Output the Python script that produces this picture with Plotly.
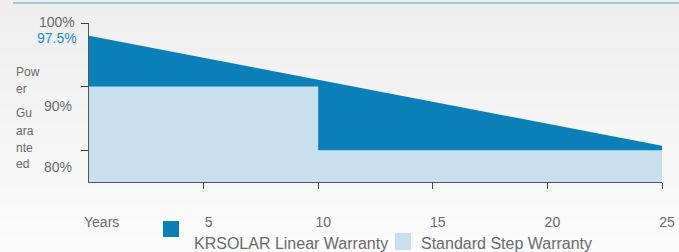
import plotly.graph_objects as go

# ---- data ----
linear_years = [0, 25]
linear_values = [98.0, 80.7]          # KRSOLAR Linear Warranty (%)
step_years = [0, 10, 10, 25]
step_values = [90, 90, 80, 80]        # Standard Step Warranty (%)
x_ticks = [5, 10, 15, 20, 25]
x_tick_labels = ["5", "10", "15", "20", "25"]
y_ticks = [80, 90, 100]
series_names = ["KRSOLAR Linear Warranty", "Standard Step Warranty"]

DARK = "#0a7fb8"
LIGHT = "#c8e0ee"
GREY = "#6a6a6a"
FONT = "Liberation Sans, Arial, sans-serif"

W, H = 679, 252
L, R, T, B = 89, 17, 23, 70
PW, PH = W - L - R, H - T - B

def fx(px):
    return (px - L) / PW

def fy(py):
    return (H - B - py) / PH

fig = go.Figure()
fig.add_trace(go.Scatter(x=linear_years, y=linear_values, mode="lines",
                         line=dict(width=0, color=DARK), fill="tozeroy",
                         fillcolor=DARK, name=series_names[0], showlegend=False,
                         hoverinfo="skip"))
fig.add_trace(go.Scatter(x=step_years, y=step_values, mode="lines",
                         line=dict(width=0, color=LIGHT), fill="tozeroy",
                         fillcolor=LIGHT, name=series_names[1], showlegend=False,
                         hoverinfo="skip"))

shapes = []
# background vertical gradient
N = 30
c0, c1 = (238, 238, 238), (251, 251, 251)
for i in range(N):
    t = i / (N - 1)
    col = tuple(round(c0[k] + (c1[k] - c0[k]) * t) for k in range(3))
    shapes.append(dict(type="rect", xref="paper", yref="paper", layer="below",
                       x0=fx(0), x1=fx(W), y0=fy(H * (i + 1) / N), y1=fy(H * i / N),
                       fillcolor="rgb(%d,%d,%d)" % col, line=dict(width=0)))
# top accent line
shapes.append(dict(type="line", xref="paper", yref="paper",
                   x0=fx(13), x1=fx(W), y0=fy(3), y1=fy(3),
                   line=dict(color="#a5c6da", width=2)))
# legend keys
shapes.append(dict(type="rect", xref="paper", yref="paper",
                   x0=fx(163), x1=fx(179), y0=fy(237), y1=fy(221),
                   fillcolor=DARK, line=dict(width=0)))
shapes.append(dict(type="rect", xref="paper", yref="paper",
                   x0=fx(395), x1=fx(411), y0=fy(250), y1=fy(233),
                   fillcolor=LIGHT, line=dict(width=0)))

ann = []
def txt(text, x, y, size=13, color=GREY, xanchor="left"):
    ann.append(dict(text=text, xref="paper", yref="paper", x=fx(x), y=fy(y),
                    xanchor=xanchor, yanchor="middle", showarrow=False,
                    font=dict(size=size, color=color, family=FONT)))

# y labels (offset from ticks as in the original)
txt("100%", 77, 22, 14, xanchor="right")
txt("97.5%", 79, 38, 14, color="#1a8fd0", xanchor="right")
txt("90%", 74, 106, 14, xanchor="right")
txt("80%", 74, 167, 14, xanchor="right")
# wrapped axis title
for word, yy in [("Pow", 72), ("er", 89), ("Gu", 113), ("ara", 131), ("nte", 148), ("ed", 164)]:
    txt(word, 14, yy, 12)
txt("Years", 82, 222, 14)
txt(series_names[0], 192, 243, 16)
txt(series_names[1], 419, 243, 16)

fig.update_layout(
    width=W, height=H,
    margin=dict(l=L, r=R, t=T, b=B, pad=0, autoexpand=False),
    paper_bgcolor="#f3f3f3", plot_bgcolor="rgba(0,0,0,0)",
    font=dict(family=FONT, color=GREY),
    shapes=shapes, annotations=ann, showlegend=False,
    xaxis=dict(range=[0, 25], tickvals=x_ticks, ticktext=x_tick_labels,
               ticks="outside", ticklen=6, tickcolor="#444", showline=True,
               linecolor="#555", linewidth=1, showgrid=False, zeroline=False,
               automargin=False,
               ticklabelstandoff=21, ticklabelshift=5,
               tickfont=dict(size=14, color=GREY, family=FONT)),
    yaxis=dict(range=[75, 100], tickvals=y_ticks, ticks="outside", ticklen=7,
               tickcolor="#444", showline=True, linecolor="#555", linewidth=1,
               automargin=False,
               showgrid=False, zeroline=False, showticklabels=False),
)
fig.write_html("out.html", config={"displayModeBar": False},
               post_script="document.body.style.margin='0';document.body.style.overflow='hidden';")
